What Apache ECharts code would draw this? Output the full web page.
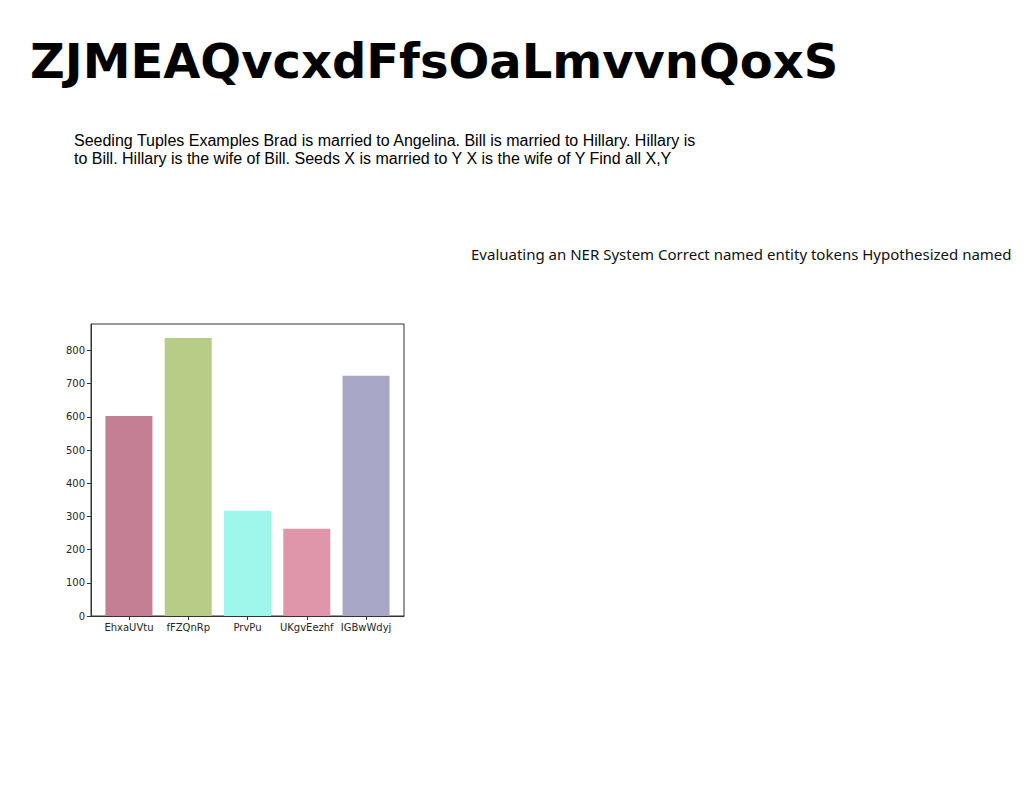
<!DOCTYPE html>
<html>
<head>
<meta charset="utf-8">
<script src="https://cdn.jsdelivr.net/npm/echarts@6/dist/echarts.min.js"></script>
<style>
html,body{margin:0;padding:0;background:#fff;}
#main{width:1024px;height:788px;}
</style>
</head>
<body>
<div id="main"></div>
<script>
const titleText = 'ZJMEAQvcxdFfsOaLmvvnQoxS';
const bodyLine1 = 'Seeding Tuples Examples Brad is married to Angelina. Bill is married to Hillary. Hillary is';
const bodyLine2 = 'to Bill. Hillary is the wife of Bill. Seeds X is married to Y X is the wife of Y Find all X,Y';
const sideText = 'Evaluating an NER System Correct named entity tokens Hypothesized named';

const categories = ['EhxaUVtu', 'fFZQnRp', 'PrvPu', 'UKgvEezhf', 'IGBwWdyj'];
const values = [603, 838, 317, 263, 724];
const barColors = ['#c47f94', '#b7cd87', '#9ff7ec', '#e096aa', '#a8a7c8'];
const yTicks = [0, 100, 200, 300, 400, 500, 600, 700, 800];
const xPositions = [0, 1, 2, 3, 4];

const chart = echarts.init(document.getElementById('main'), null, {renderer: 'svg'});
const option = {
  backgroundColor: '#ffffff',
  animation: false,
  graphic: [
    {type: 'text', left: 30, top: 37, style: {text: titleText, fontFamily: 'DejaVu Sans', fontWeight: 'bold', fontSize: 48, fill: '#000'}},
    {type: 'text', left: 74, top: 132, style: {text: bodyLine1, fontFamily: 'Liberation Sans', fontSize: 16, fill: '#000'}},
    {type: 'text', left: 74, top: 150, style: {text: bodyLine2, fontFamily: 'Liberation Sans', fontSize: 16, fill: '#000'}},
    {type: 'text', left: 471, top: 246, style: {text: sideText, fontFamily: 'Noto Sans', fontSize: 15, fill: '#111'}}
  ],
  grid: {left: 91, top: 324, width: 313, height: 292, show: true, borderColor: '#333', borderWidth: 1, backgroundColor: 'transparent'},
  xAxis: {
    type: 'value', min: -0.64, max: 4.64,
    splitLine: {show: false},
    axisLine: {show: true, onZero: false, lineStyle: {color: '#333'}},
    axisTick: {show: true, length: 4, customValues: xPositions, lineStyle: {color: '#333'}},
    axisLabel: {customValues: xPositions, formatter: v => categories[Math.round(v)], fontFamily: 'DejaVu Sans', fontSize: 10, color: '#262626', margin: 6}
  },
  yAxis: {
    type: 'value', min: 0, max: 880,
    splitLine: {show: false},
    axisLine: {show: true, onZero: false, lineStyle: {color: '#333'}},
    axisTick: {show: true, length: 4, customValues: yTicks, lineStyle: {color: '#333'}},
    axisLabel: {customValues: yTicks, fontFamily: 'DejaVu Sans', fontSize: 10, color: '#262626', margin: 6}
  },
  series: [{
    type: 'bar',
    barWidth: 47,
    data: values.map((v, i) => ({value: [xPositions[i], v], itemStyle: {color: barColors[i]}}))
  }]
};
chart.setOption(option);
</script>
</body>
</html>
